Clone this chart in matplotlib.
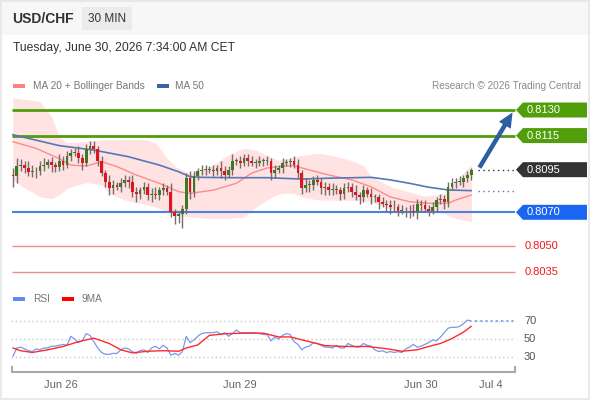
import numpy as np
import matplotlib
matplotlib.use('Agg')
import matplotlib.pyplot as plt
from matplotlib.patches import Polygon, Rectangle, FancyArrowPatch

plt.rcParams['font.family'] = ['Liberation Sans', 'DejaVu Sans']

# ---- data (prices as pips above 0.8000) ----
base = 0.8000
close_pips = [91, 97, 98, 96, 93.5, 94.5, 94, 97, 98, 99.5, 97.5, 96.5, 100, 98, 103, 105, 105, 102, 99, 107,
              109, 107, 100, 93, 88, 84, 86, 85, 87, 89, 88, 82, 81, 83, 85, 80, 81, 80, 83, 84,
              82, 70, 68, 69, 72, 90, 82, 91, 94, 95, 95, 95, 94, 96, 94, 92, 95, 100, 100, 99,
              102, 100, 99, 99, 100, 100, 100, 93, 95, 96, 99, 99.5, 100, 98, 93, 84, 86, 86, 89, 88,
              84, 85, 83, 83, 83, 81, 84, 85, 82, 80, 79, 83, 81, 79, 79, 76, 75, 74, 73, 73,
              71, 71, 70.5, 71, 70, 75, 74, 72, 71, 73, 77, 78, 76, 85, 87, 88, 88, 90, 92, 95]
first_open = 92
up_wick = [4, 5, 3, 2, 4, 3, 2, 3, 4, 2, 3, 2, 4, 3, 3, 2, 3, 4, 2, 3,
           3, 3, 2, 3, 2, 4, 3, 2, 3, 3, 2, 4, 3, 2, 3, 2, 3, 4, 2, 3,
           2, 5, 2, 2, 2, 3, 4, 3, 2, 3, 3, 2, 3, 2, 4, 3, 2, 4, 2, 3,
           2, 2, 3, 2, 3, 2, 3, 2, 3, 2, 3, 2, 2, 3, 3, 2, 4, 3, 2, 3,
           2, 3, 2, 4, 3, 2, 3, 3, 2, 4, 2, 3, 2, 3, 2, 2, 3, 2, 3, 4,
           2, 3, 2, 3, 4, 3, 2, 3, 2, 3, 2, 3, 2, 3, 3, 2, 3, 2, 2, 1]
down_wick = [6, 4, 3, 3, 2, 3, 4, 2, 3, 2, 4, 3, 2, 3, 2, 3, 2, 3, 4, 2,
             3, 2, 3, 2, 3, 4, 3, 2, 3, 2, 4, 3, 5, 3, 2, 3, 4, 2, 3, 3,
             2, 3, 5, 4, 8, 3, 4, 3, 2, 2, 3, 2, 3, 2, 4, 3, 2, 3, 2, 3,
             2, 3, 2, 3, 2, 3, 2, 4, 3, 2, 3, 2, 3, 2, 3, 3, 2, 4, 3, 2,
             3, 4, 3, 3, 2, 4, 3, 2, 3, 3, 4, 3, 2, 4, 3, 4, 2, 3, 4, 3,
             3, 2, 3, 4, 2, 4, 3, 2, 3, 2, 3, 2, 4, 3, 2, 3, 2, 3, 2, 3]

ma20_idx = [0, 6, 12, 15, 19, 23, 27, 32, 38, 43, 46, 52, 58, 62, 66, 70, 73, 77, 82, 88, 93, 98, 103, 108, 113, 115, 119]
ma20_pips = [111.4, 107.5, 101.5, 97.7, 97.1, 99.7, 96.8, 91.9, 87, 82.1, 81.1, 83, 87, 93, 96, 97, 97.3, 94.8,
             91.9, 89, 85, 79, 76.2, 75.3, 75.3, 77.2, 80.1]
ma50_idx = [0, 12, 21, 30, 38, 43, 46, 49, 57, 66, 75, 82, 93, 98, 103, 108, 113, 119]
ma50_pips = [115.5, 109.1, 106.5, 102.6, 97.7, 93.8, 90.9, 90.5, 90.3, 90.3, 89.5, 90, 90.5, 89, 87, 84.7, 83.1, 82.7]
bb_up_idx = [0, 7, 10, 11, 14, 19, 23, 27, 31, 35, 37, 40, 43, 46, 49, 52, 56, 60, 63, 67, 70, 73, 76, 80, 84, 87,
             91, 93, 98, 103, 108, 112, 116, 119]
bb_up_pips = [137, 134.9, 126, 116.5, 110.6, 111.4, 112.4, 112.4, 112.8, 112.4, 110.5, 101.7, 94.8, 92.5, 93.8, 97.7,
              103.6, 107.5, 106.5, 101.8, 99.7, 102.6, 103.6, 104.6, 102.6, 101, 97.5, 90.9, 85, 80.1, 79.2, 81.1,
              90.9, 97.7]
bb_lo_idx = [0, 3, 7, 10, 12, 14, 17, 21, 23, 25, 29, 33, 37, 40, 42, 46, 51, 56, 60, 62, 65, 69, 72, 75, 79, 84,
             89, 93, 98, 107, 112, 115, 119]
bb_lo_pips = [89, 84.3, 79.2, 78.2, 80.1, 84.1, 87, 88, 86, 81.1, 77.2, 75.3, 73.3, 70.4, 68.4, 67.4, 66.5, 66.5,
              67.4, 71.3, 76.2, 81.1, 82, 79.2, 77.3, 77.3, 77.2, 76.2, 72.3, 70.4, 69.4, 66.5, 64.5]

rsi = [31, 40, 41, 39, 37, 36, 39, 38, 40, 40, 42, 42, 43, 44, 43, 53, 50, 46, 48, 56,
       54, 47, 40, 35, 33, 33, 34, 34, 38, 40, 39, 36, 34, 37, 38, 35, 40, 42, 39, 43,
       40, 32, 34, 32, 36, 53, 46, 49, 53, 56, 57, 57, 57, 58, 55, 57, 53, 56, 60, 57,
       57, 57, 57, 57, 56, 55, 55, 48, 52, 50, 54, 56, 55, 47, 44, 38, 41, 42, 46, 45,
       43, 41, 41, 40, 43, 40, 40, 45, 43, 41, 41, 45, 43, 42, 38, 36, 37, 35, 36, 35,
       36, 35, 39, 41, 44, 41, 42, 44, 46, 49, 48, 52, 57, 62, 63, 63, 64, 67, 71, 70]
rsi_ma_idx = [0, 2, 5, 9, 13, 17, 21, 25, 28, 31, 35, 39, 43, 45, 48, 51, 55, 60, 65, 69, 72, 77, 81, 86, 92, 97,
              101, 105, 108, 111, 114, 117, 119]
rsi_ma = [40, 37, 35, 38, 41.7, 47, 51, 45, 38, 34.6, 36.4, 37, 36.4, 40, 43.4, 54, 55.8, 56.5, 56.5, 52.3, 52.3,
          47, 42.7, 41.7, 41.7, 39.2, 36.4, 38, 41.7, 45, 50.5, 57.6, 64]

resistances = [0.8130, 0.8115]
support_main = 0.8070
supports = [0.8050, 0.8035]
last_price = 0.8095
date_pos = [12.5, 59, 106, 124]
date_labels = ['Jun 26', 'Jun 29', 'Jun 30', 'Jul 4']
rsi_levels = [70, 50, 30]

def p(v):
    return base + np.asarray(v, dtype=float) / 1e4

close = p(close_pips)
opens = np.concatenate([[p(first_open)], close[:-1]])
high = np.maximum(opens, close) + np.array(up_wick) / 1e4
low = np.minimum(opens, close) - np.array(down_wick) / 1e4
idx = np.arange(len(close))

# ---- layout helpers (pixel geometry of the 590x400 picture) ----
W, H = 590, 400
x0, step = 13, 3.85
pip_px = 1.705

def fx(px):
    return px / W

def fy(py):
    return 1 - py / H

def xi(px):
    return (px - x0) / step

fig = plt.figure(figsize=(5.9, 4.0), dpi=100)
fig.patch.set_facecolor('white')
fig.patches.append(Rectangle((0, fy(35)), 1, 35 / H, transform=fig.transFigure, fc='#f7f7f7', ec='none', zorder=0))
fig.patches.append(Rectangle((0.001, 0.002), 0.997, 0.996, transform=fig.transFigure, fc='none', ec='#e6e6e6', lw=1.2))
fig.patches.append(Rectangle((fx(82), fy(30)), fx(50), 23 / H, transform=fig.transFigure, fc='#ebebeb', ec='none'))

fig.text(fx(12), fy(19), 'USD/CHF', fontsize=10, fontweight='bold', color='#333333', va='center')
fig.text(fx(107), fy(19), '30 MIN', fontsize=8.5, color='#333333', va='center', ha='center')
fig.text(fx(13), fy(48), 'Tuesday, June 30, 2026 7:34:00 AM CET', fontsize=8.7, color='#333333', va='center')

# legend row
fig.patches.append(Rectangle((fx(13), fy(88)), fx(12), 4 / H, transform=fig.transFigure, fc='#ff8080', ec='none'))
fig.text(fx(33), fy(86), 'MA 20 + Bollinger Bands', fontsize=7.3, color='#777777', va='center')
fig.patches.append(Rectangle((fx(157), fy(88)), fx(12), 4 / H, transform=fig.transFigure, fc='#3a64a8', ec='none'))
fig.text(fx(175), fy(86), 'MA 50', fontsize=7.3, color='#777777', va='center')
fig.text(fx(581), fy(86), 'Research \u00a9 2026 Trading Central', fontsize=7.2, color='#8a8a8a', va='center', ha='right')

# ---- price panel ----
ax = fig.add_axes([0, fy(285), 1, (285 - 95) / H])
ax.set_xlim(xi(0), xi(W))
ax.set_ylim(float(p(130 - (285 - 110) / pip_px)), float(p(130 + (110 - 95) / pip_px)))
ax.axis('off')

ax.fill_between(bb_up_idx, p(bb_up_pips), np.interp(bb_up_idx, bb_lo_idx, p(bb_lo_pips)),
                color='#ffe3e3', lw=0, zorder=1)
ax.fill_between(bb_lo_idx, np.interp(bb_lo_idx, bb_up_idx, p(bb_up_pips)), p(bb_lo_pips),
                color='#ffe3e3', lw=0, zorder=1)

for lv in resistances:
    ax.hlines(lv, xi(12), xi(515), colors='#4f9e0a', lw=2, zorder=2)
ax.hlines(support_main, xi(12), xi(515), colors='#4a80e0', lw=1.5, zorder=2)
for lv in supports:
    ax.hlines(lv, xi(12), xi(515), colors='#f08a8a', lw=1, zorder=2)

ax.plot(ma20_idx, p(ma20_pips), color='#ff8a8a', lw=1, zorder=3)
ax.plot(ma50_idx, p(ma50_pips), color='#5578b8', lw=1.2, zorder=3)

up = close >= opens
colors = np.where(up, '#3b7a22', '#e0141e')
ax.vlines(idx, low, high, colors='#7a6a6a', lw=1, zorder=4)
body = np.maximum(np.abs(close - opens), 0.00004)
ax.bar(idx, body, bottom=np.minimum(opens, close), width=0.72, color=colors, lw=0, zorder=5)

ax.hlines(last_price, xi(478), xi(515), colors='#333333', lw=1, linestyles=(0, (1, 2.5)), zorder=3)
ax.hlines(float(p(ma50_pips[-1])), xi(478), xi(515), colors='#5578b8', lw=1, linestyles=(0, (1, 2.5)), zorder=3)

arrow = FancyArrowPatch((xi(478), float(p(130 - 60 / pip_px))), (xi(514), resistances[0]),
                        arrowstyle='simple,head_width=0.55,head_length=0.6,tail_width=0.18',
                        mutation_scale=18, color='#2d5fa3', lw=0, zorder=6, clip_on=False)
ax.add_patch(arrow)

half = 7.5 / pip_px / 1e4

def tag(y, text, color):
    pts = [(xi(516), y), (xi(523), y + half), (xi(587), y + half), (xi(587), y - half), (xi(523), y - half)]
    ax.add_patch(Polygon(pts, closed=True, fc=color, ec='none', clip_on=False, zorder=7))
    ax.text(xi(527), y, text, color='white', fontsize=8, va='center', ha='left', zorder=8)

for lv in resistances:
    tag(lv, f'{lv:.4f}', '#4f9e0a')
tag(last_price, f'{last_price:.4f}', '#333333')
tag(support_main, f'{support_main:.4f}', '#1a66f0')
for lv in supports:
    ax.text(xi(525), lv, f'{lv:.4f}', color='#f01818', fontsize=8, va='center', ha='left')

# ---- RSI panel ----
fig.patches.append(Rectangle((fx(13), fy(301)), fx(12), 4 / H, transform=fig.transFigure, fc='#6688ee', ec='none'))
fig.text(fx(33), fy(299), 'RSI', fontsize=7.3, color='#777777', va='center')
fig.patches.append(Rectangle((fx(62), fy(301)), fx(12), 4 / H, transform=fig.transFigure, fc='#ff0000', ec='none'))
fig.text(fx(82), fy(299), '9MA', fontsize=7.3, color='#777777', va='center')

rx = fig.add_axes([0, fy(372), 1, (372 - 300) / H])
r_bot = 30 - (372 - 357) / 0.9
r_top = 70 + (321 - 300) / 0.9
rx.set_ylim(r_bot, r_top)
rx.patch.set_alpha(0)
for s in ['top', 'left', 'right']:
    rx.spines[s].set_visible(False)
rx.spines['bottom'].set_bounds(xi(12), xi(515))
rx.spines['bottom'].set_color('#aaaaaa')
rx.spines['bottom'].set_linewidth(1.5)
rx.set_yticks([])
rx.set_xticks(date_pos)
rx.set_xticklabels(date_labels)
rx.tick_params(axis='x', length=0, pad=6, labelsize=8, labelcolor='#666666')
for ex in [xi(12), xi(515)]:
    rx.plot([ex, ex], [r_bot, r_bot + 5 / 0.9], color='#aaaaaa', lw=1.5, clip_on=False)

for lv in rsi_levels:
    rx.hlines(lv, xi(11), xi(515), colors='#c8c8c8', lw=1, linestyles=(0, (1, 2)))
    rx.text(xi(524), lv, str(lv), fontsize=8, color='#555555', va='center', ha='left')
rx.hlines(70, xi(475), xi(515), colors='#8aa4ee', lw=1.5, linestyles=(0, (1, 1.5)))
rx.plot(idx, rsi, color='#7b97ea', lw=0.9)
rx.plot(rsi_ma_idx, rsi_ma, color='#ff2a2a', lw=1)
rx.set_xlim(xi(0), xi(W))
rx.set_ylim(r_bot, r_top)

fig.savefig('out.png', dpi=100)
